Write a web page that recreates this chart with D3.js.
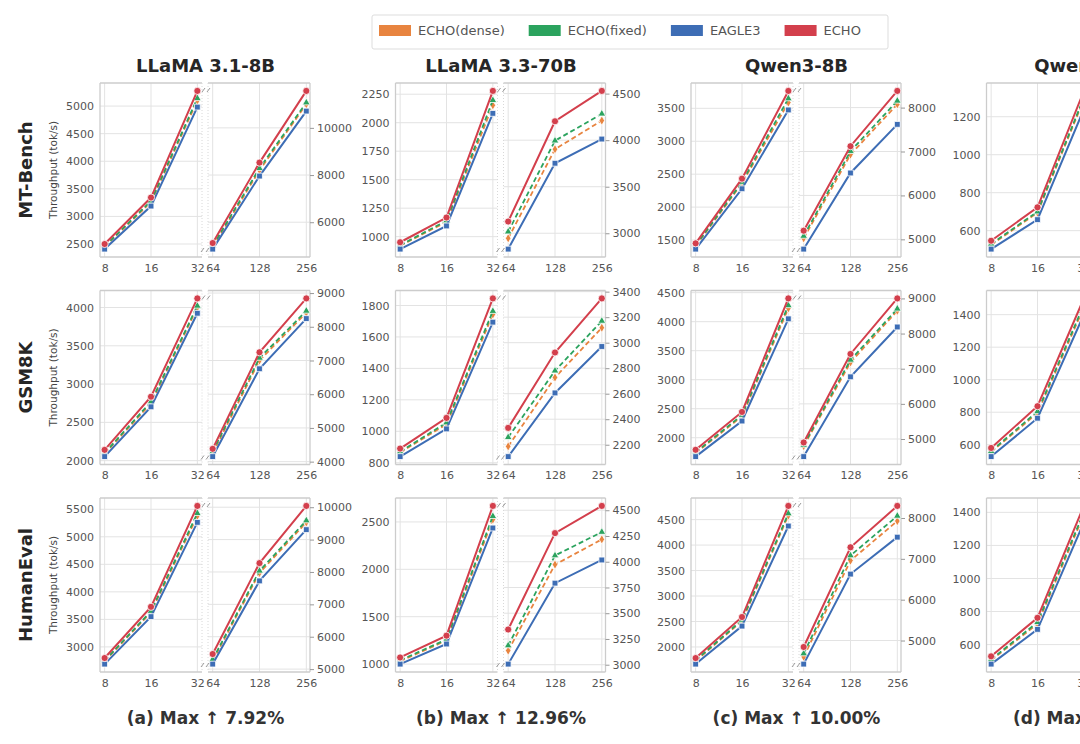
<!DOCTYPE html>
<html>
<head>
<meta charset="utf-8">
<title>Throughput vs batch size</title>
<script src="https://cdn.jsdelivr.net/npm/d3@7"></script>
<style>
  body { margin: 0; background: #fff; overflow: hidden; }
  text { font-family: "DejaVu Sans", sans-serif; }
</style>
</head>
<body>
<script>
var models = ["LLaMA 3.1-8B", "LLaMA 3.3-70B", "Qwen3-8B", "Qwen3-32B"];
var datasets = ["MT-Bench", "GSM8K", "HumanEval"];
var captions = ["(a) Max \u2191 7.92%", "(b) Max \u2191 12.96%", "(c) Max \u2191 10.00%", "(d) Max \u2191 9.48%"];
var methods = ["ECHO(dense)", "ECHO(fixed)", "EAGLE3", "ECHO"];
var colors = ["#e8843f", "#2ba35e", "#3d6db5", "#d33f4c"];
var batchLeft = ["8", "16", "32"];
var batchRight = ["64", "128", "256"];

// [dataset][model] -> throughput at batch 8,16,32,64,128,256
var echoDense = [
  [[2450, 3260, 5100, 4950, 8200, 11000], [920, 1130, 2153, 2946, 3903, 4210], [1410, 2360, 3587, 5023, 6931, 8076], [525, 695, 1290, 1660, 2350, 2800]],
  [[2090, 2750, 4000, 4250, 7000, 8420], [865, 1045, 1743, 2187, 2727, 3117], [1735, 2370, 4230, 4800, 7180, 8650], [555, 795, 1445, 1780, 2490, 2960]],
  [[2740, 3630, 5380, 5260, 7970, 9530], [1030, 1250, 2525, 3137, 3972, 4217], [1725, 2510, 4580, 4600, 6957, 7926], [505, 725, 1385, 1720, 2440, 2870]]
];
var echoFixed = [
  [[2460, 3280, 5140, 5000, 8287, 11070], [925, 1140, 2197, 3017, 3994, 4283], [1420, 2380, 3648, 5076, 7007, 8153], [530, 700, 1300, 1680, 2380, 2850]],
  [[2100, 2770, 4021, 4300, 7075, 8470], [870, 1055, 1764, 2258, 2780, 3170], [1750, 2390, 4280, 4830, 7250, 8704], [560, 805, 1460, 1800, 2520, 3000]],
  [[2750, 3650, 5427, 5300, 8034, 9587], [1040, 1260, 2560, 3186, 4060, 4288], [1740, 2530, 4619, 4680, 7080, 8050], [510, 735, 1400, 1740, 2470, 2900]]
];
var eagle3 = [
  [[2408, 3188, 4982, 4861, 7957, 10711], [891, 1094, 2082, 2830, 3752, 4012], [1363, 2279, 3475, 4778, 6511, 7618], [503, 658, 1240, 1600, 2250, 2700]],
  [[2053, 2703, 3925, 4150, 6754, 8243], [839, 1015, 1694, 2107, 2606, 2970], [1675, 2288, 4049, 4500, 6769, 8187], [527, 763, 1400, 1700, 2400, 2850]],
  [[2688, 3550, 5262, 5155, 7724, 9307], [1000, 1212, 2436, 3006, 3792, 4017], [1664, 2410, 4374, 4423, 6627, 7531], [482, 692, 1340, 1650, 2350, 2750]]
];
var echo = [
  [[2500, 3342, 5275, 5118, 8527, 11567], [951, 1168, 2279, 3126, 4203, 4529], [1450, 2432, 3764, 5197, 7121, 8380], [547, 723, 1336, 1720, 2450, 2950]],
  [[2141, 2835, 4119, 4380, 7243, 8841], [890, 1085, 1845, 2332, 2923, 3347], [1792, 2444, 4401, 4902, 7420, 9000], [580, 837, 1500, 1850, 2600, 3100]],
  [[2798, 3728, 5561, 5466, 8273, 10040], [1070, 1300, 2669, 3342, 4278, 4542], [1782, 2588, 4769, 4842, 7283, 8296], [529, 762, 1439, 1800, 2550, 3000]]
];

var leftTicks = [
  [[2500, 3000, 3500, 4000, 4500, 5000], [1000, 1250, 1500, 1750, 2000, 2250], [1500, 2000, 2500, 3000, 3500], [600, 800, 1000, 1200]],
  [[2000, 2500, 3000, 3500, 4000], [800, 1000, 1200, 1400, 1600, 1800], [2000, 2500, 3000, 3500, 4000, 4500], [600, 800, 1000, 1200, 1400]],
  [[3000, 3500, 4000, 4500, 5000, 5500], [1000, 1500, 2000, 2500], [2000, 2500, 3000, 3500, 4000, 4500], [600, 800, 1000, 1200, 1400]]
];
var rightTicks = [
  [[6000, 8000, 10000], [3000, 3500, 4000, 4500], [5000, 6000, 7000, 8000], [2000, 2500]],
  [[4000, 5000, 6000, 7000, 8000, 9000], [2200, 2400, 2600, 2800, 3000, 3200, 3400], [5000, 6000, 7000, 8000, 9000], [2000, 2500, 3000]],
  [[5000, 6000, 7000, 8000, 9000, 10000], [3000, 3250, 3500, 3750, 4000, 4250, 4500], [5000, 6000, 7000, 8000], [2000, 2500, 3000]]
];

var series = [echoDense, echoFixed, eagle3, echo];
var dashes = ["5,3", "5,3", null, null];
var lineW = [1.8, 1.8, 2, 2];
var symbols = [d3.symbolDiamond, d3.symbolTriangle, d3.symbolSquare, d3.symbolCircle];
var symSize = [26, 26, 34, 40];

var W = 1080, H = 744;
var colX0 = 100, colStep = 295.5, rowY0 = 83, rowStep = 207.5;
var pw = 102, gap = 6, ph = 174;

var svg = d3.select("body").append("svg")
  .attr("width", W)
  .attr("height", H);

function padded(vals) {
  var ext = d3.extent(vals);
  var r = ext[1] - ext[0];
  return [ext[0] - 0.05 * r, ext[1] + 0.05 * r];
}

function drawPanel(g, xs, ys, ticks, side) {
  // grid
  g.selectAll("line.hg").data(ticks).enter().append("line")
    .attr("x1", 0).attr("x2", pw)
    .attr("y1", function(d) { return ys(d); })
    .attr("y2", function(d) { return ys(d); })
    .attr("stroke", "#e3e3e3").attr("stroke-width", 1);
  g.selectAll("line.vg").data(xs.domain()).enter().append("line")
    .attr("x1", function(d) { return xs(d); })
    .attr("x2", function(d) { return xs(d); })
    .attr("y1", 0).attr("y2", ph)
    .attr("stroke", "#e3e3e3").attr("stroke-width", 1);

  // frame: outer spines solid, inner one dotted
  var fr = "#cccccc";
  g.append("line").attr("x1", 0).attr("x2", pw).attr("y1", 0).attr("y2", 0).attr("stroke", fr).attr("stroke-width", 1.3);
  g.append("line").attr("x1", 0).attr("x2", pw).attr("y1", ph).attr("y2", ph).attr("stroke", fr).attr("stroke-width", 1.3);
  g.append("line").attr("x1", side === "left" ? 0 : pw).attr("x2", side === "left" ? 0 : pw)
    .attr("y1", 0).attr("y2", ph).attr("stroke", fr).attr("stroke-width", 1.3);
  g.append("line").attr("x1", side === "left" ? pw : 0).attr("x2", side === "left" ? pw : 0)
    .attr("y1", 0).attr("y2", ph).attr("stroke", "#d8d8d8").attr("stroke-width", 1)
    .attr("stroke-dasharray", "1,2");

  // axes
  var fmt = d3.format("d");
  var ya = side === "left"
    ? d3.axisLeft(ys).tickValues(ticks).tickFormat(fmt).tickSize(0).tickPadding(6)
    : d3.axisRight(ys).tickValues(ticks).tickFormat(fmt).tickSize(4).tickPadding(3);
  var yg = g.append("g").attr("transform", side === "left" ? null : "translate(" + pw + ",0)").call(ya);
  var xg = g.append("g").attr("transform", "translate(0," + ph + ")")
    .call(d3.axisBottom(xs).tickSize(0).tickPadding(7));
  [yg, xg].forEach(function(a) {
    a.select(".domain").remove();
    a.selectAll("line").attr("stroke", "#999");
    a.selectAll("text").attr("fill", "#555").attr("font-size", "11px")
      .attr("font-family", "DejaVu Sans, sans-serif");
  });
}

function drawLines(g, xs, ys, r, c, off) {
  series.forEach(function(s, k) {
    var vals = s[r][c].slice(off, off + 3);
    var pts = vals.map(function(v, i) { return [xs.domain()[i], v]; });
    var line = d3.line()
      .x(function(d) { return xs(d[0]); })
      .y(function(d) { return ys(d[1]); });
    g.append("path").datum(pts)
      .attr("d", line)
      .attr("fill", "none")
      .attr("stroke", colors[k])
      .attr("stroke-width", lineW[k])
      .attr("stroke-dasharray", dashes[k]);
    g.selectAll("path.m" + k).data(pts).enter().append("path")
      .attr("class", "m" + k)
      .attr("d", d3.symbol().type(symbols[k]).size(symSize[k]))
      .attr("transform", function(d) { return "translate(" + xs(d[0]) + "," + ys(d[1]) + ")"; })
      .attr("fill", colors[k])
      .attr("stroke", "#fff")
      .attr("stroke-width", 0.8);
  });
}

function breakMarks(g, x, y) {
  [0, 5].forEach(function(dx) {
    g.append("line")
      .attr("x1", x + dx).attr("y1", y + 4)
      .attr("x2", x + dx + 3).attr("y2", y)
      .attr("stroke", "#999").attr("stroke-width", 1);
  });
}

datasets.forEach(function(ds, r) {
  var y0 = rowY0 + r * rowStep;
  models.forEach(function(m, c) {
    var x0 = colX0 + c * colStep;
    var all = series.map(function(s) { return s[r][c]; });
    var leftVals = [], rightVals = [];
    all.forEach(function(a) { leftVals = leftVals.concat(a.slice(0, 3)); rightVals = rightVals.concat(a.slice(3)); });

    var xL = d3.scalePoint().domain(batchLeft).range([0, pw]).padding(0.1);
    var xR = d3.scalePoint().domain(batchRight).range([0, pw + 1]).padding(0.1);
    var yL = d3.scaleLinear().domain(padded(leftVals)).range([ph, 0]);
    var yR = d3.scaleLinear().domain(padded(rightVals)).range([ph, 0]);

    var gl = svg.append("g").attr("transform", "translate(" + x0 + "," + y0 + ")");
    drawPanel(gl, xL, yL, leftTicks[r][c], "left");
    drawLines(gl, xL, yL, r, c, 0);

    var gr = svg.append("g").attr("transform", "translate(" + (x0 + pw + gap) + "," + y0 + ")");
    drawPanel(gr, xR, yR, rightTicks[r][c], "right");
    drawLines(gr, xR, yR, r, c, 3);

    breakMarks(svg, x0 + pw, y0 + 5);
    breakMarks(svg, x0 + pw - 1, y0 + ph - 9);
  });

  svg.append("text")
    .attr("transform", "translate(26," + (y0 + ph / 2) + ") rotate(-90)")
    .attr("text-anchor", "middle").attr("dy", "0.35em")
    .attr("font-size", "18px").attr("font-weight", "bold").attr("fill", "#262626")
    .text(ds);
  svg.append("text")
    .attr("transform", "translate(53," + (y0 + ph / 2) + ") rotate(-90)")
    .attr("text-anchor", "middle").attr("dy", "0.35em")
    .attr("font-size", "10.5px").attr("fill", "#444")
    .text("Throughput (tok/s)");
});

models.forEach(function(m, c) {
  var cx = colX0 + c * colStep + (2 * pw + gap + 1) / 2;
  svg.append("text")
    .attr("x", cx).attr("y", 72)
    .attr("text-anchor", "middle")
    .attr("font-size", "18px").attr("font-weight", "bold").attr("fill", "#262626")
    .text(m);
  svg.append("text")
    .attr("x", cx).attr("y", 724)
    .attr("text-anchor", "middle")
    .attr("font-size", "17px").attr("font-weight", "bold").attr("fill", "#333")
    .text(captions[c]);
});

// legend
var lg = svg.append("g");
lg.append("rect")
  .attr("x", 372).attr("y", 15).attr("width", 516).attr("height", 34)
  .attr("rx", 2).attr("fill", "#fff").attr("stroke", "#dddddd");
var lx = 379;
methods.forEach(function(name, k) {
  lg.append("rect")
    .attr("x", lx).attr("y", 25).attr("width", 32).attr("height", 11)
    .attr("fill", colors[k]);
  var t = lg.append("text")
    .attr("x", lx + 39).attr("y", 35)
    .attr("font-size", "13px").attr("fill", "#555")
    .text(name);
  lx += 39 + t.node().getComputedTextLength() + 24;
});
</script>
</body>
</html>
